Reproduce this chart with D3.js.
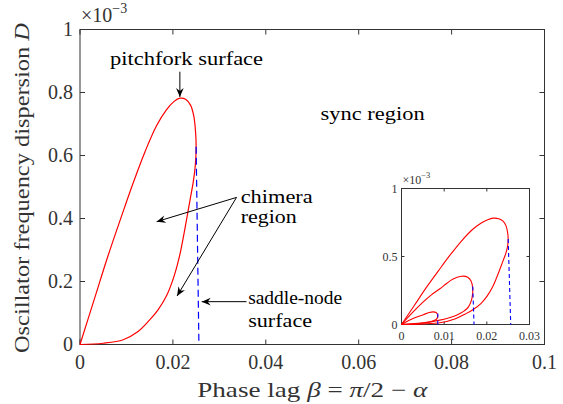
<!DOCTYPE html>
<html>
<head>
<meta charset="utf-8">
<script src="https://cdn.jsdelivr.net/npm/d3@7"></script>
<style>
  body { margin: 0; background: #fff; }
  text { font-family: "Liberation Serif", "Times New Roman", serif; }
</style>
</head>
<body>
<div id="viz"></div>
<script>
const width = 563;
const height = 404;
const margin = {top: 29.5, right: 18.5, bottom: 59.5, left: 80};

// axis ticks
const xTicks = [0, 0.02, 0.04, 0.06, 0.08, 0.1];
const xTickLabels = ['0', '0.02', '0.04', '0.06', '0.08', '0.1'];
const yTicks = [0, 0.2, 0.4, 0.6, 0.8, 1];
const yTickLabels = ['0', '0.2', '0.4', '0.6', '0.8', '1'];
const insetXTicks = [0, 0.01, 0.02, 0.03];
const insetXTickLabels = ['0', '0.01', '0.02', '0.03'];
const insetYTicks = [0, 0.5, 1];
const insetYTickLabels = ['0', '0.5', '1'];

// pitchfork loops: [beta, D (x1e-3)]
const bigLoop = [
  [0, 0], [0.0030, 0.140], [0.0060, 0.280], [0.0090, 0.410], [0.0115, 0.515],
  [0.0140, 0.612], [0.0165, 0.695], [0.0186, 0.745], [0.0202, 0.771], [0.0215, 0.782],
  [0.0228, 0.778], [0.0238, 0.760], [0.0245, 0.725], [0.0249, 0.670], [0.0250, 0.623],
  [0.0248, 0.565], [0.0244, 0.518], [0.0238, 0.468], [0.0231, 0.410], [0.0223, 0.345],
  [0.0214, 0.279], [0.0201, 0.210], [0.0186, 0.154], [0.0168, 0.110], [0.0150, 0.078],
  [0.0125, 0.041], [0.0093, 0.015], [0.0050, 0.004], [0, 0]
];
const midLoop = [
  [0, 0], [0.0025, 0.085], [0.0051, 0.166], [0.0070, 0.218], [0.0090, 0.263],
  [0.0105, 0.300], [0.0121, 0.334], [0.0141, 0.355], [0.0155, 0.348], [0.0163, 0.320],
  [0.0167, 0.265], [0.0165, 0.191], [0.0157, 0.130], [0.0147, 0.100], [0.0137, 0.081],
  [0.0129, 0.068], [0.0110, 0.048], [0.0090, 0.032], [0.0051, 0.012], [0, 0]
];
const smallLoop = [
  [0, 0], [0.0027, 0.044], [0.0051, 0.072], [0.0065, 0.088], [0.0074, 0.093],
  [0.0081, 0.088], [0.0085, 0.068], [0.0082, 0.039], [0.0075, 0.027], [0.0067, 0.019],
  [0.0035, 0.007], [0, 0]
];

// saddle-node lines
const bigSN = [[0.0250, 0.628], [0.0256, 0]];
const midSN = [[0.0167, 0.28], [0.0170, 0]];
const smallSN = [[0.0085, 0.081], [0.0085, 0]];

const red = '#ff0000';
const blue = '#0000ff';
const axisColor = '#333333';

const svg = d3.select('#viz')
  .append('svg')
    .attr('width', width)
    .attr('height', height)
    .attr('viewBox', [0, 0, width, height]);

svg.append('rect').attr('width', width).attr('height', height).attr('fill', '#fff');

const defs = svg.append('defs');
defs.append('marker')
    .attr('id', 'arrow')
    .attr('viewBox', '-10 -5 11 10')
    .attr('refX', 0)
    .attr('refY', 0)
    .attr('markerWidth', 11)
    .attr('markerHeight', 10)
    .attr('markerUnits', 'userSpaceOnUse')
    .attr('orient', 'auto')
  .append('path')
    .attr('d', 'M0,0 L-9,-3.8 L-6,0 L-9,3.8 Z')
    .attr('fill', '#000');

// Main scales
const xScale = d3.scaleLinear()
  .domain([0, 0.1])
  .range([margin.left, width - margin.right]);
const yScale = d3.scaleLinear()
  .domain([0, 1])
  .range([height - margin.bottom, margin.top]);

// draws a boxed MATLAB-style axes
function drawAxes(g, xs, ys, xt, xtl, yt, ytl, opt) {
  const [x0, x1] = xs.range();
  const [y0, y1] = ys.range();
  const tl = opt.tickLen;

  g.append('rect')
    .attr('x', x0).attr('y', y1)
    .attr('width', x1 - x0).attr('height', y0 - y1)
    .attr('fill', opt.fill || 'none')
    .attr('stroke', axisColor)
    .attr('stroke-width', 1);

  const ticks = g.append('g').attr('stroke', axisColor).attr('stroke-width', 1);
  xt.forEach(v => {
    const x = xs(v);
    ticks.append('line').attr('x1', x).attr('x2', x).attr('y1', y0).attr('y2', y0 - tl);
    ticks.append('line').attr('x1', x).attr('x2', x).attr('y1', y1).attr('y2', y1 + tl);
  });
  yt.forEach(v => {
    const y = ys(v);
    ticks.append('line').attr('x1', x0).attr('x2', x0 + tl).attr('y1', y).attr('y2', y);
    ticks.append('line').attr('x1', x1).attr('x2', x1 - tl).attr('y1', y).attr('y2', y);
  });

  g.append('g')
    .selectAll('text')
    .data(xt)
    .join('text')
      .attr('x', d => xs(d))
      .attr('y', y0 + opt.xLabelDy)
      .attr('text-anchor', 'middle')
      .attr('fill', axisColor)
      .style('font-size', opt.fontSize + 'px')
      .text((d, i) => xtl[i]);

  g.append('g')
    .selectAll('text')
    .data(yt)
    .join('text')
      .attr('x', x0 - opt.yLabelDx)
      .attr('y', d => ys(d))
      .attr('dy', '0.34em')
      .attr('text-anchor', 'end')
      .attr('fill', axisColor)
      .style('font-size', opt.fontSize + 'px')
      .text((d, i) => ytl[i]);

  // exponent label
  const ex = g.append('text')
    .attr('x', x0 + 1)
    .attr('y', y1 - opt.expDy)
    .attr('fill', axisColor)
    .style('font-size', opt.expSize + 'px');
  ex.append('tspan').text('×10');
  ex.append('tspan')
    .attr('dy', -opt.expSize * 0.45)
    .style('font-size', (opt.expSize * 0.7) + 'px')
    .text('−3');
}

const lineGen = (xs, ys) => d3.line()
  .x(d => xs(d[0]))
  .y(d => ys(d[1]))
  .curve(d3.curveCatmullRom);

const straight = (xs, ys) => d3.line()
  .x(d => xs(d[0]))
  .y(d => ys(d[1]));

// ---- main axes
const main = svg.append('g').attr('class', 'main');
drawAxes(main, xScale, yScale, xTicks, xTickLabels, yTicks, yTickLabels,
  {tickLen: 5, fontSize: 20, xLabelDy: 24, yLabelDx: 7, expSize: 20, expDy: 8});

main.append('path')
  .attr('d', lineGen(xScale, yScale)(bigLoop))
  .attr('fill', 'none')
  .attr('stroke', red)
  .attr('stroke-width', 1.2);
main.append('path')
  .attr('d', straight(xScale, yScale)(bigSN))
  .attr('fill', 'none')
  .attr('stroke', blue)
  .attr('stroke-width', 1.2)
  .attr('stroke-dasharray', '7,4');

// axis titles
svg.append('text')
  .attr('x', (xScale(0) + xScale(0.1)) / 2)
  .attr('y', 397)
  .attr('text-anchor', 'middle')
  .attr('fill', axisColor)
  .attr('textLength', 230)
  .attr('lengthAdjust', 'spacingAndGlyphs')
  .style('font-size', '21px')
  .call(t => {
    t.append('tspan').text('Phase lag ');
    t.append('tspan').style('font-style', 'italic').text('β');
    t.append('tspan').text(' = ');
    t.append('tspan').style('font-style', 'italic').text('π');
    t.append('tspan').text('/2 − ');
    t.append('tspan').style('font-style', 'italic').text('α');
  });

svg.append('text')
  .attr('transform', `translate(29,${(yScale(0) + yScale(1)) / 2 + 1}) rotate(-90)`)
  .attr('text-anchor', 'middle')
  .attr('fill', axisColor)
  .attr('textLength', 330)
  .attr('lengthAdjust', 'spacingAndGlyphs')
  .style('font-size', '21px')
  .call(t => {
    t.append('tspan').text('Oscillator frequency dispersion ');
    t.append('tspan').style('font-style', 'italic').text('D');
  });

// ---- annotations (data coordinates)
const noteData = [
  {text: 'pitchfork surface', x: 0.02295, y: 0.887, w: 153, anchor: 'middle'},
  {text: 'sync region', x: 0.0518, y: 0.713, w: 104, anchor: 'start'},
  {text: 'chimera', x: 0.0346, y: 0.449, w: 72, anchor: 'start'},
  {text: 'region', x: 0.0346, y: 0.386, w: 56, anchor: 'start'},
  {text: 'saddle-node', x: 0.0362, y: 0.129, w: 94, anchor: 'start'},
  {text: 'surface', x: 0.0362, y: 0.0565, w: 64, anchor: 'start'}
];
svg.append('g')
  .attr('class', 'notes')
  .selectAll('text')
  .data(noteData)
  .join('text')
    .attr('x', d => xScale(d.x))
    .attr('y', d => yScale(d.y))
    .attr('text-anchor', d => d.anchor)
    .attr('textLength', d => d.w)
    .attr('lengthAdjust', 'spacingAndGlyphs')
    .attr('fill', '#000')
    .style('font-size', '19.5px')
    .text(d => d.text);

const arrows = [
  [[0.0215, 0.866], [0.0215, 0.786]],
  [[0.0337, 0.467], [0.0165, 0.390]],
  [[0.0337, 0.467], [0.0209, 0.154]],
  [[0.03585, 0.136], [0.0262, 0.136]]
];
svg.append('g')
  .attr('class', 'arrows')
  .selectAll('path')
  .data(arrows)
  .join('path')
    .attr('d', d => straight(xScale, yScale)(d))
    .attr('fill', 'none')
    .attr('stroke', '#000')
    .attr('stroke-width', 1)
    .attr('marker-end', 'url(#arrow)');

// ---- inset
const ixScale = d3.scaleLinear().domain([0, 0.03]).range([401.5, 529.5]);
const iyScale = d3.scaleLinear().domain([0, 1]).range([324.5, 188.5]);
const inset = svg.append('g').attr('class', 'inset');
drawAxes(inset, ixScale, iyScale, insetXTicks, insetXTickLabels, insetYTicks, insetYTickLabels,
  {tickLen: 3, fontSize: 12, xLabelDy: 15.5, yLabelDx: 4, expSize: 12, expDy: 5, fill: '#fff'});

[bigLoop, midLoop, smallLoop].forEach(loop => {
  inset.append('path')
    .attr('d', lineGen(ixScale, iyScale)(loop))
    .attr('fill', 'none')
    .attr('stroke', red)
    .attr('stroke-width', 1.1);
});
[bigSN, midSN, smallSN].forEach(sn => {
  inset.append('path')
    .attr('d', straight(ixScale, iyScale)(sn))
    .attr('fill', 'none')
    .attr('stroke', blue)
    .attr('stroke-width', 1.1)
    .attr('stroke-dasharray', '4,3');
});
</script>
</body>
</html>
